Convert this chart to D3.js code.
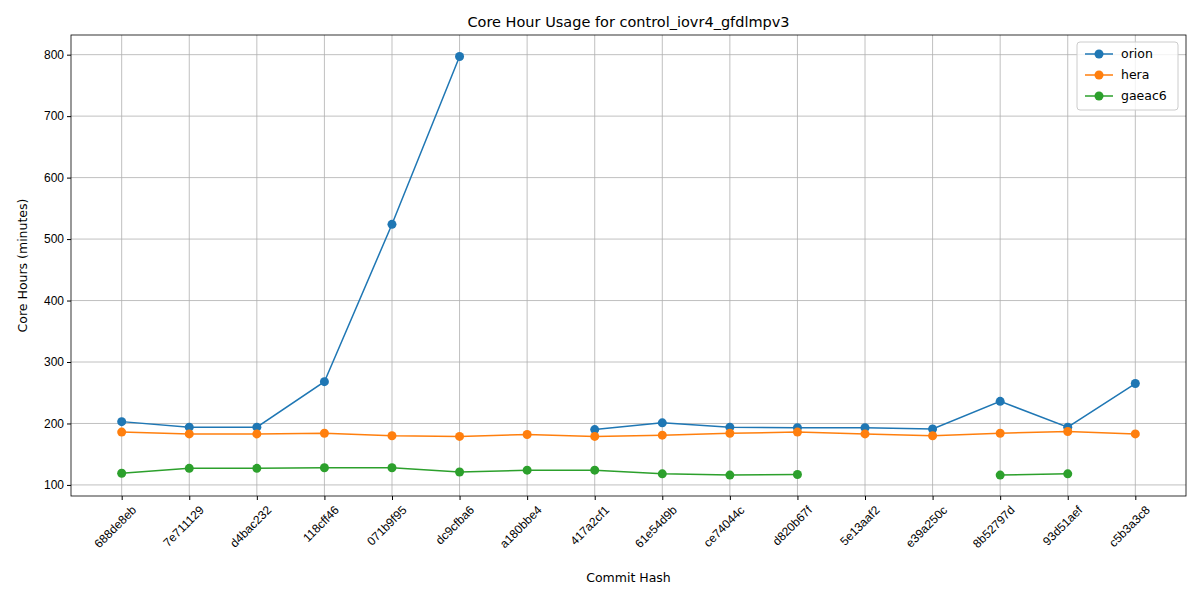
<!DOCTYPE html>
<html>
<head>
<meta charset="utf-8">
<script src="https://cdn.jsdelivr.net/npm/d3@7"></script>
<style>
body { margin: 0; background: #fff; font-family: "DejaVu Sans", sans-serif; }
.grid line { stroke: #b0b0b0; stroke-width: 0.8; }
.axis text { font-size: 12px; fill: #000; }
</style>
</head>
<body>
<svg id="chart" width="1200" height="600"></svg>
<script>
var commits = ['688de8eb','7e711129','d4bac232','118cff46','071b9f95','dc9cfba6','a180bbe4','417a2cf1','61e54d9b','ce74044c','d820b67f','5e13aaf2','e39a250c','8b52797d','93d51aef','c5b3a3c8']
var orion = [203, 194, 194, 268, 524, 797, null, 190, 201, 194, 193, 193, 191, 236, 194, 265]
var hera = [186, 183, 183, 184, 180, 179, 182, 179, 181, 184, 186, 183, 180, 184, 187, 183]
var gaeac6 = [119, 127, 127, 128, 128, 121, 124, 124, 118, 116, 117, null, null, 116, 118, null]
var yTicks = [100, 200, 300, 400, 500, 600, 700, 800]

var series = [
  { name: 'orion', values: orion, color: '#1f77b4' },
  { name: 'hera', values: hera, color: '#ff7f0e' },
  { name: 'gaeac6', values: gaeac6, color: '#2ca02c' }
]

var pLeft = 71, pRight = 1186, pTop = 35, pBottom = 496
var svg = d3.select('#chart')

var x = d3.scaleLinear().domain([-0.75, commits.length - 0.25]).range([pLeft, pRight])
var y = d3.scaleLinear().domain([82, 832]).range([pBottom, pTop])

// grid
var grid = svg.append('g').attr('class', 'grid')
grid.selectAll('.gx').data(commits).enter().append('line')
  .attr('x1', function(d, i) { return x(i) }).attr('x2', function(d, i) { return x(i) })
  .attr('y1', pTop).attr('y2', pBottom)
grid.selectAll('.gy').data(yTicks).enter().append('line')
  .attr('x1', pLeft).attr('x2', pRight)
  .attr('y1', function(d) { return y(d) }).attr('y2', function(d) { return y(d) })

// axes
var xAxis = svg.append('g').attr('class', 'axis')
  .attr('transform', 'translate(0,' + pBottom + ')')
  .call(d3.axisBottom(x).tickValues(d3.range(commits.length)).tickFormat(function(i) { return commits[i] }).tickSize(4).tickSizeOuter(0))
xAxis.selectAll('text')
  .attr('text-anchor', 'end')
  .attr('transform', 'translate(4,4) rotate(-45)')
  .attr('dx', '0').attr('dy', '0.7em')
xAxis.select('.domain').remove()

var yAxis = svg.append('g').attr('class', 'axis')
  .attr('transform', 'translate(' + pLeft + ',0)')
  .call(d3.axisLeft(y).tickValues(yTicks).tickSize(4).tickSizeOuter(0))
yAxis.select('.domain').remove()

svg.append('rect').attr('x', pLeft).attr('y', pTop)
  .attr('width', pRight - pLeft).attr('height', pBottom - pTop)
  .attr('fill', 'none').attr('stroke', '#000').attr('stroke-width', 0.8)

// lines
var line = d3.line()
  .defined(function(d) { return d != null })
  .x(function(d, i) { return x(i) })
  .y(function(d) { return y(d) })

series.forEach(function(s) {
  svg.append('path').datum(s.values)
    .attr('d', line).attr('fill', 'none')
    .attr('stroke', s.color).attr('stroke-width', 1.5)
  svg.selectAll('.pt-' + s.name)
    .data(s.values.map(function(v, i) { return { v: v, i: i } }).filter(function(d) { return d.v != null }))
    .enter().append('circle')
    .attr('cx', function(d) { return x(d.i) })
    .attr('cy', function(d) { return y(d.v) })
    .attr('r', 4.5).attr('fill', s.color)
})

// titles
svg.append('text').attr('x', (pLeft + pRight) / 2).attr('y', 27)
  .attr('text-anchor', 'middle').style('font-size', '14.5px')
  .text('Core Hour Usage for control_iovr4_gfdlmpv3')
svg.append('text').attr('x', (pLeft + pRight) / 2).attr('y', 582)
  .attr('text-anchor', 'middle').style('font-size', '12.5px')
  .text('Commit Hash')
svg.append('text').attr('transform', 'translate(27,' + ((pTop + pBottom) / 2) + ') rotate(-90)')
  .attr('text-anchor', 'middle').style('font-size', '12.5px')
  .text('Core Hours (minutes)')

// legend
var lg = svg.append('g').attr('transform', 'translate(1077,42)')
lg.append('rect').attr('width', 101).attr('height', 68).attr('rx', 3)
  .attr('fill', '#fff').attr('fill-opacity', 0.8).attr('stroke', '#ccc')
series.forEach(function(s, i) {
  var g = lg.append('g').attr('transform', 'translate(0,' + (12 + i * 21) + ')')
  g.append('line').attr('x1', 8).attr('x2', 36).attr('stroke', s.color).attr('stroke-width', 1.5)
  g.append('circle').attr('cx', 22).attr('r', 4.5).attr('fill', s.color)
  g.append('text').attr('x', 44).attr('dy', '0.35em').style('font-size', '12.5px').text(s.name)
})
</script>
</body>
</html>
